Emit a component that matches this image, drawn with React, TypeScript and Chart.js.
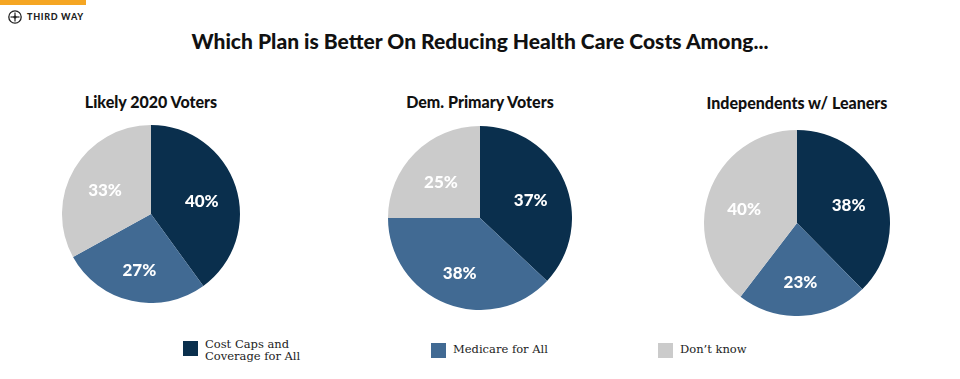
import React, { useEffect, useRef } from "react";
import { Chart, registerables } from "chart.js";

Chart.register(...registerables);

const TITLE = "Which Plan is Better On Reducing Health Care Costs Among...";
const categories = ["Cost Caps and Coverage for All", "Medicare for All", "Don\u2019t know"];
const legendLines = [["Cost Caps and", "Coverage for All"], ["Medicare for All"], ["Don\u2019t know"]];
const groups = ["Likely 2020 Voters", "Dem. Primary Voters", "Independents w/ Leaners"];
const likelyVoters = [40, 27, 33];
const demPrimary = [37, 38, 25];
const independents = [38, 23, 40];
const seriesValues = [likelyVoters, demPrimary, independents];
const colors = ["#0a2f4d", "#416a93", "#cbcbcb"];

const pieBoxes = [
  { left: 62, top: 125, size: 178, titleTop: 92 },
  { left: 388, top: 126, size: 184, titleTop: 92 },
  { left: 704, top: 130, size: 186, titleTop: 93 },
];
const legendBoxes = [
  { x: 183, sqTop: 341, textTop: 338 },
  { x: 431, sqTop: 343, textTop: 343 },
  { x: 658, sqTop: 343, textTop: 343 },
];

const labelPlugin = {
  id: "sliceLabels",
  afterDatasetsDraw(chart: any) {
    const ctx = chart.ctx;
    const meta = chart.getDatasetMeta(0);
    const data = chart.data.datasets[0].data;
    ctx.save();
    ctx.fillStyle = "#ffffff";
    ctx.font = "900 17px Lato, 'Open Sans', sans-serif";
    ctx.textAlign = "center";
    ctx.textBaseline = "middle";
    meta.data.forEach((el: any, i: number) => {
      const p = el.getProps(["x", "y", "startAngle", "endAngle", "outerRadius"], true);
      const mid = (p.startAngle + p.endAngle) / 2;
      const r = p.outerRadius * 0.6;
      ctx.fillText(data[i] + "%", p.x + Math.cos(mid) * r, p.y + Math.sin(mid) * r + 4);
    });
    ctx.restore();
  },
};

function Pie({ values, size }: { values: number[]; size: number }) {
  const ref = useRef<HTMLCanvasElement>(null);
  useEffect(() => {
    const chart = new Chart(ref.current!, {
      type: "pie",
      data: {
        labels: categories,
        datasets: [{ data: values, backgroundColor: colors, borderWidth: 0 }],
      },
      options: {
        responsive: false,
        animation: false,
        layout: { padding: 0 },
        plugins: { legend: { display: false }, tooltip: { enabled: false }, title: { display: false } },
      },
      plugins: [labelPlugin],
    });
    return () => chart.destroy();
  }, []);
  return <canvas ref={ref} width={size} height={size} style={{ width: size, height: size }} />;
}

export default function App() {
  return (
    <div
      style={{
        position: "absolute",
        left: 0,
        top: 0,
        width: 960,
        height: 379,
        background: "#ffffff",
        overflow: "hidden",
        fontFamily: "Lato, 'Open Sans', sans-serif",
      }}
    >
      <div style={{ position: "absolute", left: 0, top: 0, width: 86, height: 5, background: "#f5a623" }} />
      <svg style={{ position: "absolute", left: 8, top: 10 }} width="14" height="14" viewBox="0 0 14 14">
        <circle cx="7" cy="7" r="6.2" fill="none" stroke="#222" strokeWidth="1.3" />
        <line x1="7" y1="2.5" x2="7" y2="11.5" stroke="#222" strokeWidth="1.2" />
        <line x1="2.5" y1="7" x2="11.5" y2="7" stroke="#222" strokeWidth="1.2" />
        <circle cx="7" cy="7" r="1.6" fill="#222" />
      </svg>
      <div
        style={{
          position: "absolute",
          left: 27,
          top: 10,
          fontSize: 9,
          lineHeight: "13px",
          fontWeight: 900,
          color: "#222",
          letterSpacing: 0.7,
          whiteSpace: "nowrap",
        }}
      >
        THIRD WAY
      </div>
      <div
        style={{
          position: "absolute",
          left: 0,
          width: 960,
          top: 28,
          textAlign: "center",
          fontSize: 21,
          fontWeight: 900,
          color: "#111",
        }}
      >
        {TITLE}
      </div>
      {pieBoxes.map((b, i) => (
        <React.Fragment key={i}>
          <div
            style={{
              position: "absolute",
              left: b.left + b.size / 2 - 150,
              width: 300,
              top: b.titleTop,
              textAlign: "center",
              fontSize: 16,
              fontWeight: 900,
              color: "#111",
            }}
          >
            {groups[i]}
          </div>
          <div style={{ position: "absolute", left: b.left, top: b.top, width: b.size, height: b.size }}>
            <Pie values={seriesValues[i]} size={b.size} />
          </div>
        </React.Fragment>
      ))}
      {legendBoxes.map((lb, i) => (
        <React.Fragment key={i}>
          <div
            style={{ position: "absolute", left: lb.x, top: lb.sqTop, width: 15, height: 15, background: colors[i] }}
          />
          <div
            style={{
              position: "absolute",
              left: lb.x + 22,
              top: lb.textTop,
              fontFamily: "'DejaVu Serif', 'Liberation Serif', serif",
              fontSize: 11.5,
              lineHeight: "12px",
              color: "#222",
              whiteSpace: "nowrap",
            }}
          >
            {legendLines[i].map((l, j) => (
              <div key={j}>{l}</div>
            ))}
          </div>
        </React.Fragment>
      ))}
    </div>
  );
}
